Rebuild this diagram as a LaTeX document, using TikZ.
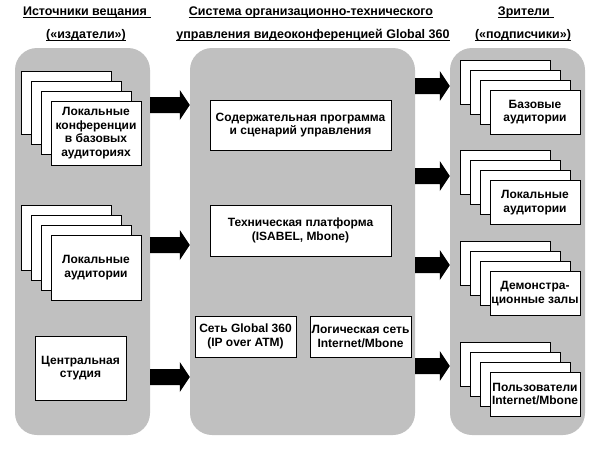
\documentclass[tikz,border=0pt]{standalone}
\usepackage{fontspec}
\setmainfont{Liberation Sans}
\usetikzlibrary{calc}
\definecolor{panelgray}{RGB}{192,192,192}
\begin{document}
\begin{tikzpicture}[x=1pt,y=-1pt,
  panel/.style={fill=panelgray, rounded corners=22pt, inner sep=0pt, draw=none},
  txt/.style={align=center, inner sep=1pt, font=\fontsize{12}{13.5}\selectfont\bfseries},
  page/.style={txt, draw=black, fill=white, line width=1pt, minimum width=90pt},
  box/.style={txt, draw=black, fill=white, line width=1pt},
  hdr/.style={anchor=base, inner sep=0pt, font=\fontsize{12.5}{14}\selectfont\bfseries},
  uline/.style={line width=1pt},
  blockarrow/.style={to path={let \p1=(\tikztostart), \p2=(\tikztotarget) in
    (\x1,\y1+8pt) -- (\x2-10pt,\y1+8pt) -- (\x2-10pt,\y1+15pt) -- (\x2,\y1)
    -- (\x2-10pt,\y1-15pt) -- (\x2-10pt,\y1-8pt) -- (\x1,\y1-8pt) -- cycle}}]
\useasboundingbox[fill=white] (0,0) rectangle (600,450);

% headers
\node[hdr] (h1a) at (87,15) {Источники вещания\,\,};
\node[hdr] (h1b) at (86,38) {(«издатели»)};
\node[hdr] (h2a) at (311,15) {Система организационно-технического};
\node[hdr] (h2b) at (313,38) {управления видеоконференцией Global 360};
\node[hdr] (h3a) at (526,15) {Зрители\,\,};
\node[hdr] (h3b) at (523,38) {(«подписчики»)};
\foreach \h in {h1a,h1b,h2a,h2b,h3a,h3b}
  \draw[uline] ($(\h.base west)+(0,2)$) -- ($(\h.base east)+(0,2)$);

% panels
\node[panel, minimum width=135pt, minimum height=387pt] (L) at (82.5,241.5) {};
\node[panel, minimum width=225pt, minimum height=387pt] (M) at (302.5,241.5) {};
\node[panel, minimum width=135pt, minimum height=387pt] (R) at (517.5,241.5) {};

% arrows
\fill[black] (L.east |- 0,105) to[blockarrow] (M.west |- 0,105);
\fill[black] (L.east |- 0,245) to[blockarrow] (M.west |- 0,245);
\fill[black] (L.east |- 0,377) to[blockarrow] (M.west |- 0,377);
\fill[black] (M.east |- 0,86) to[blockarrow] (R.west |- 0,86);
\fill[black] (M.east |- 0,176) to[blockarrow] (R.west |- 0,176);
\fill[black] (M.east |- 0,265) to[blockarrow] (R.west |- 0,265);
\fill[black] (M.east |- 0,366) to[blockarrow] (R.west |- 0,366);

% left stack 1
\node[page, minimum height=63pt] (l1a) at (66,103) {};
\node[page, minimum height=63pt] (l1b) at (76,113) {};
\node[page, minimum height=63pt] (l1c) at (86,123) {};
\node[page, minimum height=64pt] (l1) at (96,133) {Локальные\\конференции\\в базовых\\аудиториях};
% left stack 2
\node[page, minimum height=65pt] (l2a) at (66,237.5) {};
\node[page, minimum height=65pt] (l2b) at (76,247.5) {};
\node[page, minimum height=65pt] (l2c) at (86,257.5) {};
\node[page, minimum height=65pt] (l2) at (96,267.5) {Локальные\\аудитории};
% central studio
\node[box, minimum width=91pt, minimum height=64pt] (cs) at (80.5,368) {Центральная\\студия};

% middle boxes
\node[box, minimum width=181pt, minimum height=50pt] (m1) at (300.5,125) {Содержательная программа\\и сценарий управления};
\node[box, minimum width=181pt, minimum height=51pt] (m2) at (300.5,230.5) {Техническая платформа\\(ISABEL, Mbone)};
\node[box, minimum width=101pt, minimum height=41pt] (m3) at (245.5,336.5) {Сеть Global 360\\(IP over ATM)};
\node[box, minimum width=101pt, minimum height=41pt, inner sep=0pt] (m4) at (360.5,336.5) {Логическая сеть\\Internet/Mbone};

% right stacks
\node[page, minimum height=44pt] (r1a) at (505,82) {};
\node[page, minimum height=44pt] (r1b) at (515,92) {};
\node[page, minimum height=44pt] (r1c) at (525,102) {};
\node[page, minimum height=44pt] (r1) at (535,112) {Базовые\\аудитории};

\node[page, minimum height=44pt] (r2a) at (505,172.5) {};
\node[page, minimum height=44pt] (r2b) at (515,182.5) {};
\node[page, minimum height=44pt] (r2c) at (525,192.5) {};
\node[page, minimum height=44pt] (r2) at (535,202.5) {Локальные\\аудитории};

\node[page, minimum height=44pt] (r3a) at (505,263.5) {};
\node[page, minimum height=44pt] (r3b) at (515,273.5) {};
\node[page, minimum height=44pt] (r3c) at (525,283.5) {};
\node[page, minimum height=44pt] (r3) at (535,293.5) {Демонстра-\\ционные залы};

\node[page, minimum height=44pt] (r4a) at (505,364) {};
\node[page, minimum height=44pt] (r4b) at (515,374) {};
\node[page, minimum height=44pt] (r4c) at (525,384) {};
\node[page, minimum height=44pt, inner sep=0pt] (r4) at (535,394) {Пользователи\\Internet/Mbone};
\end{tikzpicture}
\end{document}
